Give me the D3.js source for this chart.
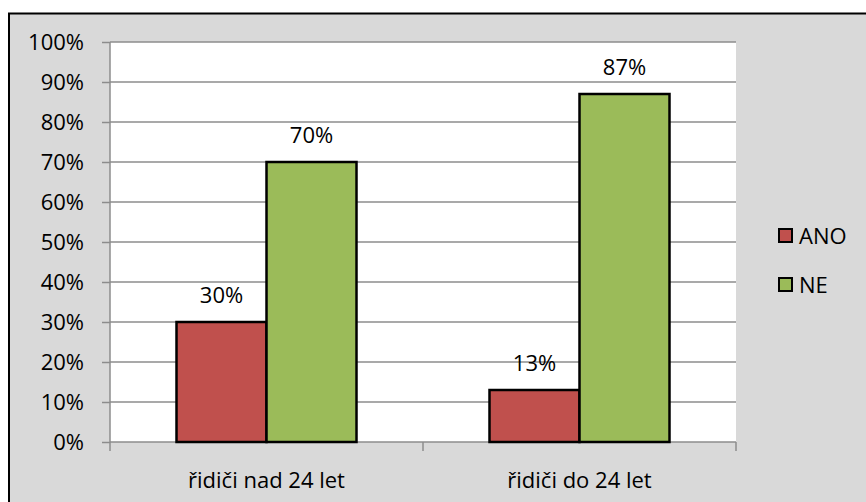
<!DOCTYPE html>
<html><head><meta charset="utf-8">
<script src="https://cdn.jsdelivr.net/npm/d3@7"></script>
<style>
html,body{margin:0;padding:0;background:#fff;}
svg{display:block;}
text{font-family:"Open Sans",sans-serif;fill:#000;}
</style></head>
<body>
<svg id="c" width="866" height="502"></svg>
<script>
const categories = ["řidiči nad 24 let", "řidiči do 24 let"];
const seriesNames = ["ANO", "NE"];
const anoValues = [30, 13];
const neValues = [70, 87];
const seriesColors = ["#c0504d", "#9bbb59"];
const yTicks = [0,10,20,30,40,50,60,70,80,90,100];

const svg = d3.select("#c");
const W = 866, H = 502;
const plot = {left:110, top:42, right:736, bottom:442};

// chart background and border
svg.append("rect").attr("x",0).attr("y",0).attr("width",W).attr("height",H).attr("fill","#fff");
svg.append("rect").attr("x",9).attr("y",13.5).attr("width",W+20).attr("height",H+20)
  .attr("fill","#d9d9d9").attr("stroke","#000").attr("stroke-width",2);

// plot area
svg.append("rect").attr("x",plot.left).attr("y",plot.top)
  .attr("width",plot.right-plot.left).attr("height",plot.bottom-plot.top).attr("fill","#fff");

const x0 = d3.scaleBand().domain(categories).range([plot.left, plot.right]).paddingInner(0).paddingOuter(0);
const barW = 90;
const x1 = d3.scaleBand().domain(seriesNames).range([0, barW*2]).padding(0);
const y = d3.scaleLinear().domain([0,100]).range([plot.bottom, plot.top]);

const gridColor = "#8c8c8c";
// gridlines
svg.append("g").selectAll("line").data(yTicks.slice(1)).join("line")
  .attr("x1",plot.left).attr("x2",plot.right)
  .attr("y1",d=>y(d)).attr("y2",d=>y(d))
  .attr("stroke",gridColor).attr("stroke-width",1.5);

// y axis
const yAxis = d3.axisLeft(y).tickValues(yTicks).tickSize(8).tickPadding(18).tickFormat(d=>d+"%");
const gy = svg.append("g").attr("transform",`translate(${plot.left},0)`).call(yAxis);
gy.select(".domain").attr("stroke",gridColor).attr("stroke-width",1.5).attr("d",`M0,${plot.top}V${plot.bottom}`);
gy.selectAll(".tick line").attr("stroke",gridColor).attr("stroke-width",1.5);
gy.selectAll(".tick text").attr("font-size",22).attr("font-family","Open Sans").attr("fill","#000");

// x axis
const xAxis = d3.axisBottom(x0).tickSize(0).tickPadding(30);
const gx = svg.append("g").attr("transform",`translate(0,${plot.bottom})`).call(xAxis);
gx.select(".domain").attr("stroke",gridColor).attr("stroke-width",1.5).attr("d",`M${plot.left},0H${plot.right}`);
gx.selectAll(".tick text").attr("font-size",22).attr("font-family","Open Sans").attr("fill","#000");
// category separator ticks
const sepX = [plot.left, ...categories.slice(1).map(c=>x0(c)), plot.right];
gx.append("g").selectAll("line").data(sepX).join("line")
  .attr("x1",d=>d).attr("x2",d=>d).attr("y1",0).attr("y2",9)
  .attr("stroke",gridColor).attr("stroke-width",1.5);

// bars
const data = categories.map((c,i)=>({cat:c, vals:[{s:seriesNames[0],v:anoValues[i],c:seriesColors[0]},{s:seriesNames[1],v:neValues[i],c:seriesColors[1]}]}));
const groups = svg.append("g").selectAll("g").data(data).join("g")
  .attr("transform",d=>`translate(${x0(d.cat)+(x0.bandwidth()-barW*2)/2},0)`);
groups.selectAll("rect").data(d=>d.vals).join("rect")
  .attr("x",d=>x1(d.s)).attr("width",x1.bandwidth())
  .attr("y",d=>y(d.v)).attr("height",d=>plot.bottom-y(d.v))
  .attr("fill",d=>d.c).attr("stroke","#000").attr("stroke-width",2.5);
groups.selectAll("text").data(d=>d.vals).join("text")
  .attr("x",d=>x1(d.s)+x1.bandwidth()/2).attr("y",d=>y(d.v)-19)
  .attr("text-anchor","middle").attr("font-size",22)
  .text(d=>d.v+"%");

// legend
const leg = svg.append("g").selectAll("g").data(seriesNames).join("g")
  .attr("transform",(d,i)=>`translate(779,${229+i*49})`);
leg.append("rect").attr("width",13).attr("height",13)
  .attr("fill",(d,i)=>seriesColors[i]).attr("stroke","#000").attr("stroke-width",2);
leg.append("text").attr("x",20).attr("y",7).attr("dy","0.35em")
  .attr("font-size",22).text(d=>d);
</script>
</body></html>
